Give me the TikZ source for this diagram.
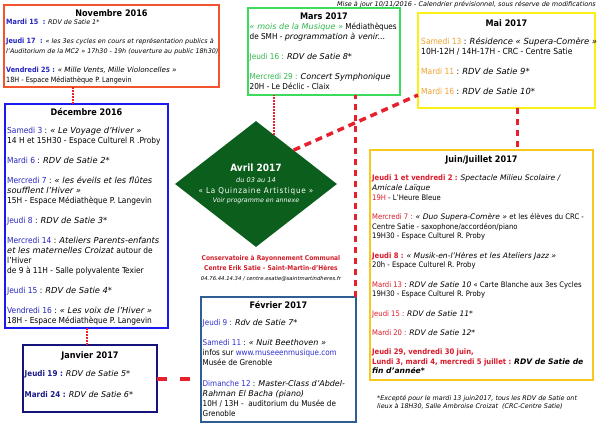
\documentclass[tikz,border=0pt]{standalone}
\usepackage{fontspec}
\setmainfont{DejaVu Sans Condensed}[
  BoldFont={DejaVu Sans Condensed Bold},
  ItalicFont={DejaVu Sans Oblique},
  BoldItalicFont={DejaVu Sans Bold Oblique}]
\usetikzlibrary{shapes.geometric}

\definecolor{novred}{HTML}{F2542D}
\definecolor{decblue}{HTML}{1A1AF0}
\definecolor{janblue}{HTML}{14147A}
\definecolor{marsgreen}{HTML}{3DDB5C}
\definecolor{maiyellow}{HTML}{FAF014}
\definecolor{juingold}{HTML}{F8C81C}
\definecolor{fevblue}{HTML}{2F5F92}
\definecolor{avrilgreen}{HTML}{0C5E1C}
\definecolor{linkred}{HTML}{E8202E}
\definecolor{crcred}{HTML}{D21E2A}
\definecolor{dayblue}{HTML}{2424C0}
\definecolor{janday}{HTML}{1B1B8A}
\definecolor{fevday}{HTML}{3030D0}
\definecolor{daygreen}{HTML}{2FB84A}
\definecolor{dayorange}{HTML}{F0A030}
\definecolor{dayred}{HTML}{D91A2A}

\newcommand{\jour}[2][dayblue]{\textcolor{#1}{#2}}
\newcommand{\petit}{\fontsize{6.4}{9.6}\selectfont}

\tikzset{
  monthbox/.style={draw=#1, fill=white, line width=2.6pt, inner sep=0pt, outer sep=0pt, anchor=north west},
  monthtitle/.style={font=\bfseries\fontsize{9}{11}\selectfont, anchor=base},
  monthtext/.style={align=left, anchor=north west, inner sep=0pt},
  linkdot/.style={draw=linkred, line width=1.3pt, dash pattern=on 1.6pt off 1.4pt},
  linkdash/.style={draw=linkred, line width=3pt, dash pattern=on 6pt off 5pt},
}

\begin{document}
\begin{tikzpicture}[x=1pt,y=-1pt]
  \useasboundingbox (0,0) rectangle (600,424);
  \fill[white] (0,0) rectangle (600,424);

  % mise a jour
  \node[font=\itshape\fontsize{6.5}{8}\selectfont, anchor=base east, inner sep=0pt] (maj) at (596,6.5)
    {Mise à jour 10/11/2016 - Calendrier prévisionnel, sous réserve de modifications};

  % novembre
  \node[monthbox=novred, minimum width=215pt, minimum height=82pt] (nov) at (4,5) {};
  \node[monthtitle] (novtitle) at ([yshift=-11.5pt]nov.north) {Novembre 2016};
  \node[monthtext, font=\fontsize{7.2}{9.6}\selectfont] (novtext) at ([shift={(2pt,-14pt)}]nov.north west) {%
    \jour{\textbf{Mardi 15~ :}} {\petit\itshape RDV de Satie 1*}\\[9.6pt]
    \jour{\textbf{Jeudi 17~ :}} {\petit\itshape « les 3es cycles en cours et représentation publics à}\\
    {\petit\itshape l'Auditorium de la MC2 » 17h30 - 19h (ouverture au public 18h30)}\\[9.6pt]
    \jour{\textbf{Vendredi 25 :}} \textit{« Mille Vents, Mille Violoncelles »}\\
    18H - Espace Médiathèque P. Langevin};

  % decembre
  \node[monthbox=decblue, minimum width=163pt, minimum height=224pt] (dec) at (5,104) {};
  \node[monthtitle] (dectitle) at ([yshift=-11.5pt]dec.north) {Décembre 2016};
  \node[monthtext, font=\fontsize{8.3}{10}\selectfont] (dectext) at ([shift={(2pt,-22.5pt)}]dec.north west) {%
    \jour{Samedi 3} : \textit{« Le Voyage d'Hiver »}\\
    14 H et 15H30 - Espace Culturel R .Proby\\[10pt]
    \jour{Mardi 6} : \textit{RDV de Satie 2*}\\[10pt]
    \jour{Mercredi 7} : \textit{« les éveils et les flûtes}\\
    \textit{soufflent l'Hiver »}\\
    15H - Espace Médiathèque P. Langevin\\[10pt]
    \jour{Jeudi 8} : \textit{RDV de Satie 3*}\\[10pt]
    \jour{Mercredi 14} : \textit{Ateliers Parents-enfants}\\
    \textit{et les maternelles Croizat} autour de\\
    l'Hiver\\
    de 9 à 11H - Salle polyvalente Texier\\[10pt]
    \jour{Jeudi 15} : \textit{RDV de Satie 4*}\\[10pt]
    \jour{Vendredi 16} : \textit{« Les voix de l'Hiver »}\\
    18H - Espace Médiathèque P. Langevin};

  % janvier
  \node[monthbox=janblue, minimum width=134pt, minimum height=67pt] (jan) at (23,345) {};
  \node[monthtitle] (jantitle) at ([yshift=-13.5pt]jan.north) {Janvier 2017};
  \node[monthtext, font=\fontsize{8}{10.5}\selectfont] (jantext) at ([shift={(1.5pt,-24.8pt)}]jan.north west) {%
    \jour[janday]{\textbf{Jeudi 19 :}} \textit{RDV de Satie 5*}\\[10.5pt]
    \jour[janday]{\textbf{Mardi 24 :}} \textit{RDV de Satie 6*}};

  % fevrier
  \node[monthbox=fevblue, minimum width=155pt, minimum height=125pt] (fev) at (201,297) {};
  \node[monthtitle] (fevtitle) at ([yshift=-11.5pt]fev.north) {Février 2017};
  \node[monthtext, font=\fontsize{8}{10.2}\selectfont] (fevtext) at ([shift={(1.5pt,-21.8pt)}]fev.north west) {%
    \jour[fevday]{Jeudi 9 :} \textit{Rdv de Satie 7*}\\[10.2pt]
    \jour[fevday]{Samedi 11} : \textit{« Nuit Beethoven »}\\
    infos sur \textcolor{fevday}{www.museeenmusique.com}\\
    Musée de Grenoble\\[10.2pt]
    \jour[fevday]{Dimanche 12} : \textit{Master-Class d'Abdel-}\\
    \textit{Rahman El Bacha (piano)}\\
    10H / 13H -~ auditorium du Musée de\\
    Grenoble};

  % mars
  \node[monthbox=marsgreen, minimum width=152pt, minimum height=87pt] (mars) at (248,8) {};
  \node[monthtitle] (marstitle) at ([yshift=-11.5pt]mars.north) {Mars 2017};
  \node[monthtext, font=\fontsize{8.1}{10}\selectfont] (marstext) at ([shift={(1.5pt,-14.5pt)}]mars.north west) {%
    \jour[daygreen]{\textit{« mois de la Musique »}} Médiathèques\\
    de SMH - \textit{programmation à venir...}\\[10pt]
    \jour[daygreen]{Jeudi 16 :} \textit{RDV de Satie 8*}\\[10pt]
    \jour[daygreen]{Mercredi 29 :} \textit{Concert Symphonique}\\
    20H - Le Déclic - Claix};

  % avril
  \node[diamond, fill=avrilgreen, minimum width=162pt, minimum height=126pt, inner sep=0pt] (avril) at (256,184) {};
  \node[align=center, text=white, font=\fontsize{7.5}{11}\selectfont] (avriltext) at (avril.center) {%
    {\bfseries\fontsize{10}{11}\selectfont Avril 2017}\\
    {\itshape\fontsize{6.6}{11}\selectfont du 03 au 14}\\
    {\addfontfeature{LetterSpace=10}\fontsize{8}{11}\selectfont « La Quinzaine Artistique »}\\[-2.5pt]
    {\itshape\fontsize{6.3}{11}\selectfont Voir programme en annexe}};

  % conservatoire
  \node[align=center, font=\fontsize{6.6}{10}\selectfont] (crc) at (271,268) {%
    \textcolor{crcred}{\bfseries Conservatoire à Rayonnement Communal}\\
    \textcolor{crcred}{\bfseries Centre Erik Satie - Saint-Martin-d'Hères}\\
    {\itshape\fontsize{5.3}{10}\selectfont 04.76.44.14.34 / centre.esatie@saintmartindheres.fr}};

  % mai
  \node[monthbox=maiyellow, minimum width=177pt, minimum height=95pt] (mai) at (418,13) {};
  \node[monthtitle] (maititle) at ([yshift=-13.5pt]mai.north) {Mai 2017};
  \node[monthtext, font=\fontsize{8.4}{10}\selectfont] (maitext) at ([shift={(3pt,-24.5pt)}]mai.north west) {%
    \jour[dayorange]{Samedi 13} : \textit{Résidence « Supera-Comère »}\\
    10H-12H / 14H-17H - CRC - Centre Satie\\[10pt]
    \jour[dayorange]{Mardi 11} : \textit{RDV de Satie 9*}\\[10pt]
    \jour[dayorange]{Mardi 16} : \textit{RDV de Satie 10*}};

  % juin / juillet
  \node[monthbox=juingold, minimum width=223pt, minimum height=230pt] (juin) at (370,150) {};
  \node[monthtitle] (juintitle) at ([yshift=-12.5pt]juin.north) {Juin/Juillet 2017};
  \node[monthtext, font=\fontsize{7.6}{9.65}\selectfont] (juintext) at ([shift={(2pt,-25pt)}]juin.north west) {%
    \jour[dayred]{\textbf{Jeudi 1 et vendredi 2 :}} \textit{Spectacle Milieu Scolaire /}\\
    \textit{Amicale Laïque}\\
    \jour[dayred]{19H} - L'Heure Bleue\\[9.65pt]
    \jour[dayred]{Mercredi 7 :} \textit{« Duo Supera-Comère »} et les élèves du CRC -\\
    Centre Satie - saxophone/accordéon/piano\\
    19H30 - Espace Culturel R. Proby\\[9.65pt]
    \jour[dayred]{\textbf{Jeudi 8 :}} \textit{« Musik-en-l'Hères et les Ateliers Jazz »}\\
    20h - Espace Culturel R. Proby\\[9.65pt]
    \jour[dayred]{Mardi 13} : \textit{RDV de Satie 10} « Carte Blanche aux 3es Cycles\\
    19H30 - Espace Culturel R. Proby\\[9.65pt]
    \jour[dayred]{Jeudi 15 :} \textit{RDV de Satie 11*}\\[9.65pt]
    \jour[dayred]{Mardi 20 :} \textit{RDV de Satie 12*}\\[9.65pt]
    \jour[dayred]{\textbf{Jeudi 29, vendredi 30 juin,}}\\
    \jour[dayred]{\textbf{Lundi 3, mardi 4, mercredi 5 juillet :}} \textbf{\textit{RDV de Satie de}}\\
    \textbf{\textit{fin d'année*}}};

  % note
  \node[font=\itshape\fontsize{6.4}{8}\selectfont, align=left, anchor=north west, inner sep=0pt] (note) at (377,395.5)
    {*Excepté pour le mardi 13 juin2017, tous les RDV de Satie ont\\
     lieux à 18H30, Salle Ambroise Croizat~ (CRC-Centre Satie)};

  % liens
  \draw[linkdot] ([xshift=69pt]nov.south west) -- ([xshift=69pt]nov.south west |- dec.north);
  \draw[linkdot] ([xshift=-3pt]jan.north) -- ([xshift=-3pt]jan.north |- dec.south);
  \draw[linkdash, line width=4pt, dash pattern=on 10pt off 13pt] (jan.east) -- (jan.east -| fev.west);
  \draw[linkdash] ([xshift=-1pt]fev.north east) -- ([xshift=-1pt]fev.north east |- mars.south);
  \draw[linkdot] (avril.70) -- (avril.70 |- mars.south);
  \draw[linkdash, line width=3.5pt, dash pattern=on 7pt off 5pt] (avril.42) -- ([yshift=13pt]mai.south west);
  \draw[linkdash] ([xshift=10.5pt]mai.south) -- ([xshift=10.5pt]mai.south |- juin.north);
\end{tikzpicture}
\end{document}
